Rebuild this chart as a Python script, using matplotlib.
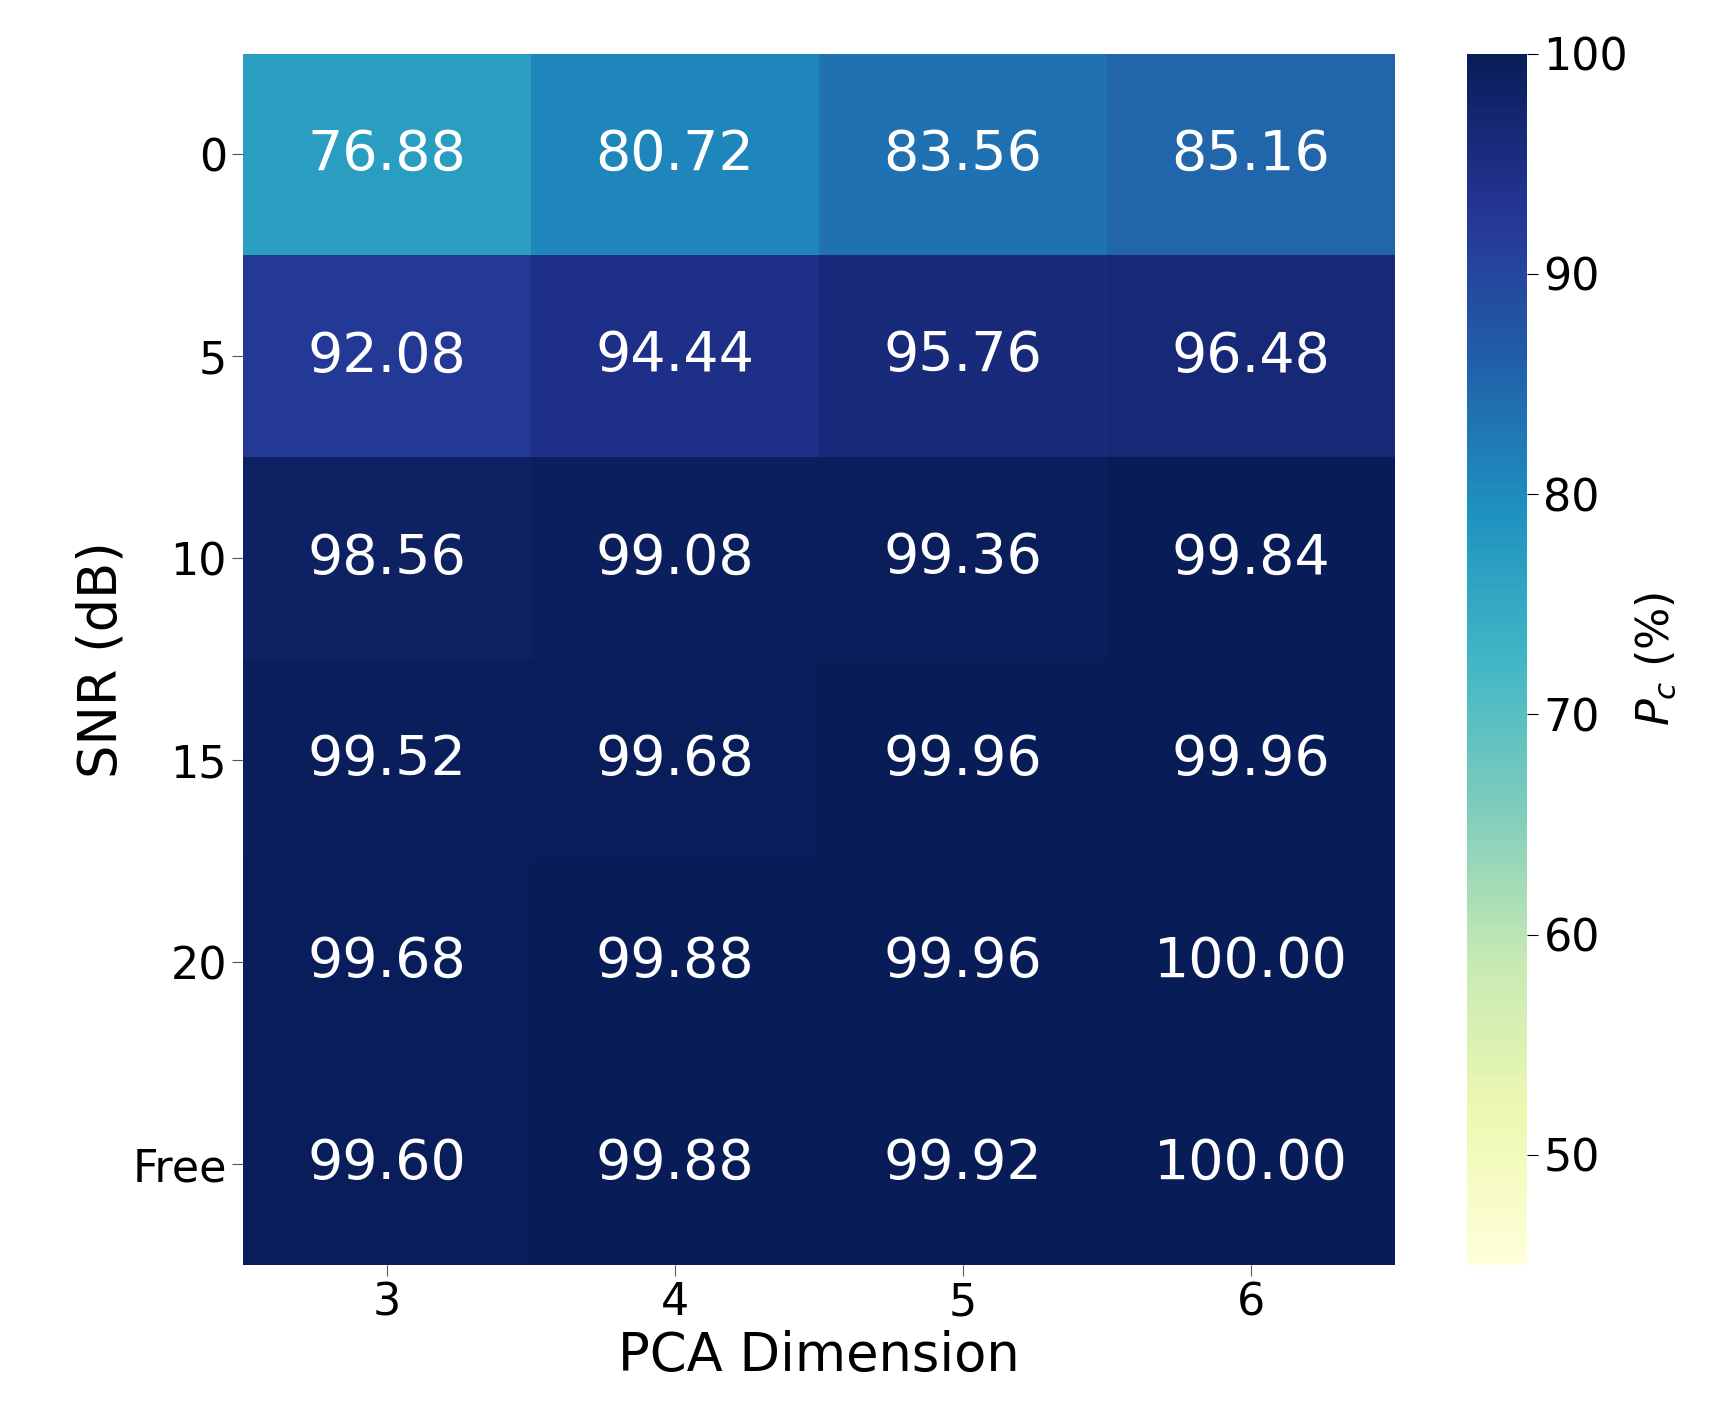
import matplotlib
matplotlib.use("Agg")
import matplotlib.pyplot as plt
import numpy as np

snr_labels = ["0", "5", "10", "15", "20", "Free"]
pca_dims = ["3", "4", "5", "6"]
pc_values = np.array([
    [76.88, 80.72, 83.56, 85.16],
    [92.08, 94.44, 95.76, 96.48],
    [98.56, 99.08, 99.36, 99.84],
    [99.52, 99.68, 99.96, 99.96],
    [99.68, 99.88, 99.96, 100.00],
    [99.60, 99.88, 99.92, 100.00],
])

fig = plt.figure(figsize=(17.24, 14.27), dpi=100)
ax = fig.add_axes([0.141, 0.1135, 0.668, 0.849])
cax = fig.add_axes([0.851, 0.1135, 0.035, 0.849])

im = ax.imshow(pc_values, cmap="YlGnBu", vmin=45, vmax=100, aspect="auto")
for i in range(pc_values.shape[0]):
    for j in range(pc_values.shape[1]):
        ax.text(j, i, f"{pc_values[i, j]:.2f}", ha="center", va="center",
                color="white", fontsize=40)

ax.set_xticks(range(len(pca_dims)))
ax.set_xticklabels(pca_dims)
ax.set_yticks(range(len(snr_labels)))
ax.set_yticklabels(snr_labels)
ax.tick_params(labelsize=32, length=8, color="#555555")
ax.set_xlabel("PCA Dimension", fontsize=38)
ax.set_ylabel("SNR (dB)", fontsize=38)
for s in ax.spines.values():
    s.set_visible(False)

cb = fig.colorbar(im, cax=cax)
cb.set_ticks([50, 60, 70, 80, 90, 100])
cb.ax.tick_params(labelsize=32, length=8)
cb.outline.set_visible(False)
cb.set_label("$P_c$ (%)", fontsize=32)

fig.savefig("out.png", dpi=100)
